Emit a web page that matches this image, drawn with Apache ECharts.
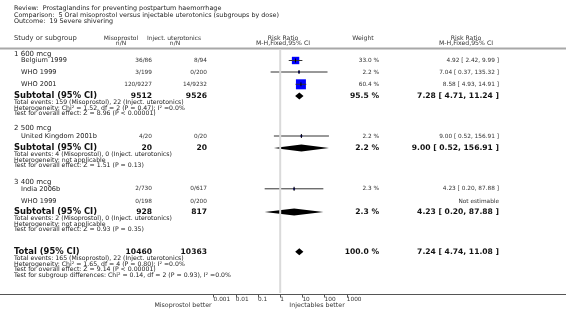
<!DOCTYPE html>
<html>
<head>
<meta charset="utf-8">
<script src="https://cdn.jsdelivr.net/npm/echarts@6/dist/echarts.min.js"></script>
<style>
html, body { margin: 0; padding: 0; background: #fff; }
#chart { width: 566px; height: 312px; }
</style>
</head>
<body>
<div id="chart"></div>
<script>
// ---- data ----
var titleLines = [
  'Review:  Prostaglandins for preventing postpartum haemorrhage',
  'Comparison:  5 Oral misoprostol versus injectable uterotonics (subgroups by dose)',
  'Outcome:  19 Severe shivering'
]
var studies = ['Belgium 1999', 'WHO 1999', 'WHO 2001', 'United Kingdom 2001b', 'India 2006b', 'WHO 1999']
var misoEvents = [36, 3, 120, 4, 2, 0]
var misoTotal = [86, 199, 9227, 20, 730, 198]
var injEvents = [8, 0, 14, 0, 0, 0]
var injTotal = [94, 200, 9232, 20, 617, 200]
var studyWeight = [33.0, 2.2, 60.4, 2.2, 2.3, null]
var studyRR = [4.92, 7.04, 8.58, 9.00, 4.23, null]
var studyLo = [2.42, 0.37, 4.93, 0.52, 0.20, null]
var studyHi = [9.99, 135.32, 14.91, 156.91, 87.88, null]

var groups = ['1 600 mcg', '2 500 mcg', '3 400 mcg']
var subMisoTotal = [9512, 20, 928]
var subInjTotal = [9526, 20, 817]
var subMisoEvents = [159, 4, 2]
var subInjEvents = [22, 0, 0]
var subWeight = [95.5, 2.2, 2.3]
var subRR = [7.28, 9.00, 4.23]
var subLo = [4.71, 0.52, 0.20]
var subHi = [11.24, 156.91, 87.88]
var subHet = [
  'Heterogeneity: Chi\u00b2 = 1.52, df = 2 (P = 0.47); I\u00b2 =0.0%',
  'Heterogeneity: not applicable',
  'Heterogeneity: not applicable'
]
var subZ = ['Z = 8.96 (P < 0.00001)', 'Z = 1.51 (P = 0.13)', 'Z = 0.93 (P = 0.35)']

var totalMiso = 10460
var totalInj = 10363
var totalWeight = 100.0
var totalRR = [7.24, 4.74, 11.08]
var totalLines = [
  'Total events: 165 (Misoprostol), 22 (Inject. uterotonics)',
  'Heterogeneity: Chi\u00b2 = 1.65, df = 4 (P = 0.80); I\u00b2 =0.0%',
  'Test for overall effect: Z = 9.14 (P < 0.00001)',
  'Test for subgroup differences: Chi\u00b2 = 0.14, df = 2 (P = 0.93), I\u00b2 =0.0%'
]
var xTickLabels = ['0.001', '0.01', '0.1', '1', '10', '100', '1000']

// ---- layout (pixels) ----
var titleY = [8.5, 15, 21.5]
var studyY = [60.5, 72, 84.3, 136, 188.8, 201]
var groupY = [54.5, 128, 182]
var subY = [96, 148, 212]
var subLineY = [[102.6, 108.2, 113.8], [154.4, 160, 165.6], [218.6, 224.2, 229.8]]
var totalY = 251.7
var totalLineY = [258.8, 264.3, 269.8, 275.3]
var axisY = 294.5
var colLeft = 14
var colStudy = 21
var colMiso = 152
var colInj = 207
var colWeight = 379
var colRR = 499

var FONT = '"DejaVu Sans", Verdana, sans-serif'

function txt (str, x, y, size, opt) {
  opt = opt || {}
  return {
    type: 'text',
    x: x,
    y: y,
    silent: true,
    style: {
      text: str,
      fontFamily: FONT,
      fontSize: size,
      fontWeight: opt.bold ? 'bold' : 'normal',
      fill: opt.color || '#222',
      align: opt.align || 'left',
      verticalAlign: 'middle'
    }
  }
}

function ciText (r, l, h) {
  return r.toFixed(2) + ' [ ' + l.toFixed(2) + ', ' + h.toFixed(2) + ' ]'
}

var graphics = []
titleLines.forEach(function (t, i) {
  graphics.push(txt(t, colLeft, titleY[i], 6.4))
})
// header
graphics.push(txt('Study or subgroup', colLeft, 38, 6.8, { color: '#333' }))
graphics.push(txt('Misoprostol', 121, 38, 6, { align: 'center', color: '#333' }))
graphics.push(txt('n/N', 121, 43.5, 6, { align: 'center', color: '#333' }))
graphics.push(txt('Inject. uterotonics', 174, 38, 6, { align: 'center', color: '#333' }))
graphics.push(txt('n/N', 175, 43.5, 6, { align: 'center', color: '#333' }))
graphics.push(txt('Risk Ratio', 283, 38, 6.2, { align: 'center', color: '#333' }))
graphics.push(txt('M-H,Fixed,95% CI', 283, 43.5, 6.2, { align: 'center', color: '#333' }))
graphics.push(txt('Weight', 363, 38, 6.2, { align: 'center', color: '#333' }))
graphics.push(txt('Risk Ratio', 466, 38, 6.2, { align: 'center', color: '#333' }))
graphics.push(txt('M-H,Fixed,95% CI', 466, 43.5, 6.2, { align: 'center', color: '#333' }))
graphics.push({ type: 'line', silent: true, shape: { x1: 0, y1: 48.5, x2: 566, y2: 48.5 }, style: { stroke: '#a8a8a8', lineWidth: 2 } })

// study rows
studies.forEach(function (s, i) {
  var y = studyY[i]
  graphics.push(txt(s, colStudy, y, 6.6))
  graphics.push(txt(misoEvents[i] + '/' + misoTotal[i], colMiso, y, 5.8, { align: 'right', color: '#333' }))
  graphics.push(txt(injEvents[i] + '/' + injTotal[i], colInj, y, 5.8, { align: 'right', color: '#333' }))
  if (studyRR[i] != null) {
    graphics.push(txt(studyWeight[i].toFixed(1) + ' %', colWeight, y, 5.8, { align: 'right', color: '#333' }))
    graphics.push(txt(ciText(studyRR[i], studyLo[i], studyHi[i]), colRR, y, 5.8, { align: 'right', color: '#333' }))
  } else {
    graphics.push(txt('Not estimable', colRR, y, 5.8, { align: 'right', color: '#333' }))
  }
})

// subgroups
groups.forEach(function (g, k) {
  graphics.push(txt(g, colLeft, groupY[k], 7))
  graphics.push(txt('Subtotal (95% CI)', colLeft, subY[k], 8.4, { bold: true, color: '#111' }))
  graphics.push(txt(String(subMisoTotal[k]), colMiso, subY[k], 7.6, { bold: true, align: 'right', color: '#111' }))
  graphics.push(txt(String(subInjTotal[k]), colInj, subY[k], 7.6, { bold: true, align: 'right', color: '#111' }))
  graphics.push(txt(subWeight[k].toFixed(1) + ' %', colWeight, subY[k], 7.6, { bold: true, align: 'right', color: '#111' }))
  graphics.push(txt(ciText(subRR[k], subLo[k], subHi[k]), colRR, subY[k], 7.6, { bold: true, align: 'right', color: '#111' }))
  var lines = [
    'Total events: ' + subMisoEvents[k] + ' (Misoprostol), ' + subInjEvents[k] + ' (Inject. uterotonics)',
    subHet[k],
    'Test for overall effect: ' + subZ[k]
  ]
  lines.forEach(function (l, j) {
    graphics.push(txt(l, colLeft, subLineY[k][j], 6.2))
  })
})

// overall
graphics.push(txt('Total (95% CI)', colLeft, totalY, 8.4, { bold: true, color: '#111' }))
graphics.push(txt(String(totalMiso), colMiso, totalY, 7.6, { bold: true, align: 'right', color: '#111' }))
graphics.push(txt(String(totalInj), colInj, totalY, 7.6, { bold: true, align: 'right', color: '#111' }))
graphics.push(txt(totalWeight.toFixed(1) + ' %', colWeight, totalY, 7.6, { bold: true, align: 'right', color: '#111' }))
graphics.push(txt(ciText(totalRR[0], totalRR[1], totalRR[2]), colRR, totalY, 7.6, { bold: true, align: 'right', color: '#111' }))
totalLines.forEach(function (l, j) {
  graphics.push(txt(l, colLeft, totalLineY[j], 6.2))
})

// bottom axis line and captions
graphics.push({ type: 'line', silent: true, shape: { x1: 0, y1: axisY, x2: 566, y2: axisY }, style: { stroke: '#555', lineWidth: 1 } })
graphics.push(txt('Misoprostol better', 183, 305.5, 6.3, { align: 'center', color: '#333' }))
graphics.push(txt('Injectables better', 317, 305.5, 6.3, { align: 'center', color: '#333' }))

// marks data
var studyData = []
studies.forEach(function (s, i) {
  if (studyRR[i] == null) return
  studyData.push([studyRR[i], studyLo[i], studyHi[i], studyWeight[i], studyY[i]])
})
var diamondData = subRR.map(function (r, k) {
  return [r, subLo[k], subHi[k], subY[k]]
})
diamondData.push([totalRR[0], totalRR[1], totalRR[2], totalY])

var chart = echarts.init(document.getElementById('chart'))
chart.setOption({
  animation: false,
  backgroundColor: '#fff',
  grid: { left: 213.6, width: 133.2, top: 0, height: 294.5 },
  xAxis: {
    type: 'log',
    logBase: 10,
    min: 0.001,
    max: 1000,
    splitNumber: 6,
    position: 'bottom',
    axisLine: { show: false, onZero: false },
    axisTick: { show: true, length: 3, lineStyle: { color: '#555' } },
    splitLine: { show: false },
    axisLabel: {
      fontFamily: FONT,
      fontSize: 5.8,
      color: '#333',
      margin: 1.5,
      align: 'left',
      showMinLabel: true,
      showMaxLabel: true,
      hideOverlap: false,
      formatter: function (v) {
        return xTickLabels[Math.round(Math.log10(v)) + 3]
      }
    }
  },
  yAxis: {
    type: 'value',
    min: 0,
    max: 294.5,
    inverse: true,
    show: false,
    axisLine: { show: false, onZero: false },
    splitLine: { show: false }
  },
  series: [
    {
      // line of no effect
      type: 'line',
      data: [[1, 49.5], [1, 293]],
      symbol: 'none',
      silent: true,
      lineStyle: { color: '#dadada', width: 2 }
    },
    {
      type: 'custom',
      silent: true,
      data: studyData,
      encode: { x: [0, 1, 2], y: 4 },
      renderItem: function (params, api) {
        var y = api.value(4)
        var a = api.coord([api.value(1), y])
        var b = api.coord([api.value(2), y])
        var c = api.coord([api.value(0), y])
        var s = Math.max(1.5, 10 * Math.sqrt(api.value(3) / 60.4))
        return {
          type: 'group',
          children: [
            { type: 'rect', shape: { x: c[0] - s / 2, y: c[1] - s / 2, width: s, height: s }, style: { fill: '#0000ff' } },
            { type: 'line', shape: { x1: a[0], y1: a[1], x2: b[0], y2: b[1] }, style: { stroke: '#333', lineWidth: 1 } },
            { type: 'line', shape: { x1: c[0], y1: c[1] - 2, x2: c[0], y2: c[1] + 2 }, style: { stroke: '#000', lineWidth: 1 } }
          ]
        }
      }
    },
    {
      type: 'custom',
      silent: true,
      data: diamondData,
      encode: { x: [0, 1, 2], y: 3 },
      renderItem: function (params, api) {
        var y = api.value(3)
        var l = api.coord([api.value(1), y])
        var h = api.coord([api.value(2), y])
        var c = api.coord([api.value(0), y])
        var hh = 3.5
        return {
          type: 'polygon',
          shape: { points: [[l[0], c[1]], [c[0], c[1] - hh], [h[0], c[1]], [c[0], c[1] + hh]] },
          style: { fill: '#000' }
        }
      }
    }
  ],
  graphic: graphics
})
</script>
</body>
</html>
